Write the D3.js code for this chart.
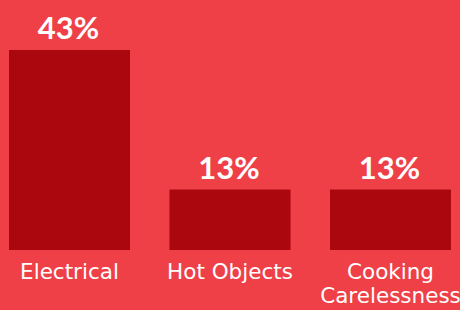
<!DOCTYPE html>
<html>
<head>
<meta charset="utf-8">
<script src="https://cdn.jsdelivr.net/npm/d3@7"></script>
<style>
html,body{margin:0;padding:0;background:#EF4048;}
svg{display:block;}
text{font-family:"Century Gothic","DejaVu Sans",sans-serif;fill:#fff;}
text.val{font-family:"Century Gothic",Lato,"DejaVu Sans",sans-serif;}
</style>
</head>
<body>
<svg id="chart" width="460" height="310"></svg>
<script>
const categories = ["Electrical", "Hot Objects", "Cooking Carelessness"];
const categoryLines = [["Electrical"], ["Hot Objects"], ["Cooking", "Carelessness"]];
const values = [43, 13, 13];
const valueLabels = ["43%", "13%", "13%"];

const W = 460, H = 310;
const svg = d3.select("#chart");
svg.append("rect").attr("width", W).attr("height", H).attr("fill", "#EF4048");

const x = d3.scaleBand().domain(categories).range([9, 451]).paddingInner(0.246).paddingOuter(0);
const y = d3.scaleLinear().domain([0, 43]).range([250, 50]);

svg.selectAll("rect.bar").data(values).join("rect")
  .attr("class", "bar")
  .attr("x", (d, i) => x(categories[i]))
  .attr("y", d => y(d))
  .attr("width", x.bandwidth())
  .attr("height", d => y(0) - y(d))
  .attr("fill", "#AA070E");

svg.selectAll("text.val").data(values).join("text")
  .attr("class", "val")
  .attr("x", (d, i) => x(categories[i]) + x.bandwidth() / 2 - 1)
  .attr("y", d => y(d) - 11)
  .attr("text-anchor", "middle")
  .attr("font-size", 31)
  .attr("font-weight", "bold")
  .text((d, i) => valueLabels[i]);

categories.forEach((c, i) => {
  const t = svg.append("text")
    .attr("x", x(c) + x.bandwidth() / 2)
    .attr("y", 279)
    .attr("text-anchor", "middle")
    .attr("font-size", 21.5);
  categoryLines[i].forEach((line, j) => {
    t.append("tspan").attr("x", x(c) + x.bandwidth() / 2).attr("dy", j === 0 ? 0 : 24).text(line);
  });
});
</script>
</body>
</html>
